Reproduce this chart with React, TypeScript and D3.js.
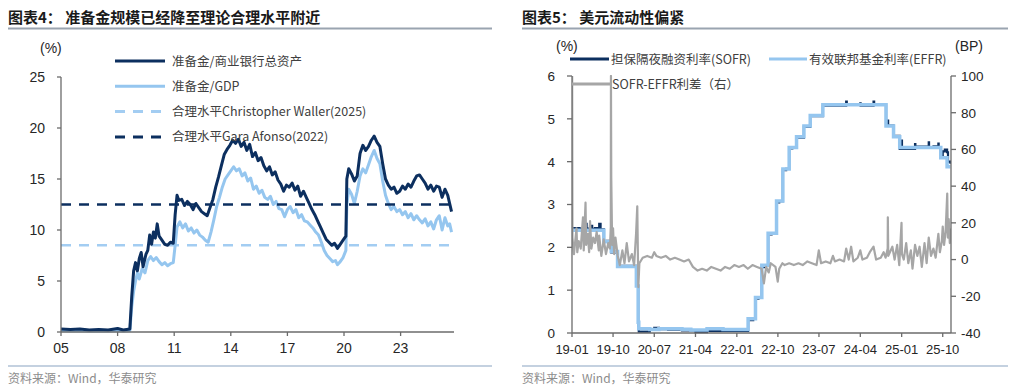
import * as d3 from 'd3';

// ---------- chart 4: reserves vs. reasonable level ----------
const leftTicks = [2005, 2008, 2011, 2014, 2017, 2020, 2023];
const leftYTicks = [0, 5, 10, 15, 20, 25];

// reserves / commercial bank total assets (%)
const reservesToAssets: [number, number][] = [
  [2005.0, 0.3], [2005.5, 0.25], [2006.0, 0.3], [2006.5, 0.2], [2007.0, 0.25], [2007.5, 0.2],
  [2008.0, 0.35], [2008.3, 0.2], [2008.65, 0.3], [2008.75, 3.5], [2008.85, 6.0], [2008.95, 6.8],
  [2009.05, 6.0], [2009.15, 7.2], [2009.25, 7.8], [2009.35, 6.4], [2009.5, 7.6], [2009.6, 8.0],
  [2009.7, 9.5], [2009.8, 8.6], [2009.9, 9.8], [2010.0, 9.2], [2010.1, 10.6], [2010.2, 9.4],
  [2010.35, 9.0], [2010.5, 8.6], [2010.65, 8.5], [2010.8, 8.8], [2010.95, 8.7], [2011.05, 11.5],
  [2011.15, 13.4], [2011.25, 12.9], [2011.4, 13.0], [2011.55, 12.4], [2011.7, 12.8], [2011.85, 12.5],
  [2012.0, 12.0], [2012.15, 12.6], [2012.3, 12.2], [2012.45, 11.8], [2012.6, 11.6], [2012.75, 11.4],
  [2012.9, 12.2], [2013.05, 13.0], [2013.2, 14.2], [2013.35, 15.2], [2013.5, 16.3], [2013.65, 17.4],
  [2013.8, 17.9], [2013.95, 18.3], [2014.1, 18.8], [2014.25, 18.5], [2014.4, 18.9], [2014.55, 18.2],
  [2014.7, 18.6], [2014.85, 17.8], [2015.0, 18.4], [2015.15, 17.2], [2015.3, 17.6], [2015.45, 16.8],
  [2015.6, 17.1], [2015.75, 16.3], [2015.9, 15.8], [2016.05, 16.2], [2016.2, 15.4], [2016.35, 15.7],
  [2016.5, 14.9], [2016.65, 14.5], [2016.8, 13.8], [2016.95, 14.4], [2017.1, 14.2], [2017.25, 14.6],
  [2017.4, 13.9], [2017.55, 14.3], [2017.7, 13.3], [2017.85, 13.8], [2018.0, 13.2], [2018.15, 12.6],
  [2018.3, 12.0], [2018.45, 11.5], [2018.6, 10.9], [2018.75, 10.3], [2018.9, 9.7], [2019.05, 9.1],
  [2019.2, 8.8], [2019.35, 8.5], [2019.5, 8.7], [2019.65, 8.2], [2019.8, 8.6], [2019.95, 9.0],
  [2020.1, 9.4], [2020.15, 15.0], [2020.25, 16.0], [2020.4, 15.5], [2020.55, 14.8], [2020.7, 15.3],
  [2020.85, 17.5], [2021.0, 18.3], [2021.15, 17.8], [2021.3, 18.2], [2021.45, 18.8], [2021.6, 19.2],
  [2021.75, 18.6], [2021.9, 18.2], [2022.05, 16.5], [2022.2, 15.0], [2022.35, 14.4], [2022.5, 14.0],
  [2022.65, 14.2], [2022.8, 13.6], [2022.95, 13.8], [2023.1, 14.3], [2023.25, 14.0], [2023.4, 14.5],
  [2023.55, 14.2], [2023.7, 14.8], [2023.85, 15.3], [2024.0, 15.4], [2024.15, 15.0], [2024.3, 14.6],
  [2024.45, 14.0], [2024.6, 14.4], [2024.75, 13.8], [2024.9, 14.3], [2025.05, 14.2], [2025.2, 13.2],
  [2025.35, 14.0], [2025.5, 13.4], [2025.6, 12.6], [2025.7, 11.8],
];

// reserves / GDP (%)
const reservesToGdp: [number, number][] = [
  [2005.0, 0.15], [2005.5, 0.12], [2006.0, 0.15], [2006.5, 0.1], [2007.0, 0.12], [2007.5, 0.1],
  [2008.0, 0.15], [2008.3, 0.1], [2008.65, 0.15], [2008.75, 2.5], [2008.85, 4.0], [2008.95, 5.0],
  [2009.05, 5.8], [2009.15, 5.2], [2009.3, 6.2], [2009.45, 5.8], [2009.6, 7.0], [2009.75, 7.4],
  [2009.9, 7.0], [2010.05, 7.3], [2010.2, 6.9], [2010.35, 6.6], [2010.5, 6.8], [2010.65, 6.5],
  [2010.8, 6.7], [2010.95, 6.8], [2011.05, 8.5], [2011.15, 10.3], [2011.3, 10.8], [2011.45, 10.2],
  [2011.6, 10.6], [2011.75, 9.9], [2011.9, 10.2], [2012.05, 9.7], [2012.2, 10.0], [2012.35, 9.5],
  [2012.5, 9.3], [2012.65, 9.0], [2012.8, 8.8], [2012.95, 9.8], [2013.1, 11.0], [2013.25, 12.3],
  [2013.4, 13.2], [2013.55, 14.2], [2013.7, 15.0], [2013.85, 15.4], [2014.0, 15.8], [2014.15, 16.2],
  [2014.3, 15.8], [2014.45, 16.0], [2014.6, 15.3], [2014.75, 15.6], [2014.9, 14.8], [2015.05, 15.1],
  [2015.2, 14.0], [2015.35, 14.3], [2015.5, 13.6], [2015.65, 13.9], [2015.8, 13.2], [2015.95, 13.0],
  [2016.1, 13.3], [2016.25, 12.5], [2016.4, 12.8], [2016.55, 12.1], [2016.7, 12.0], [2016.85, 11.3],
  [2017.0, 12.0], [2017.15, 12.3], [2017.3, 11.7], [2017.45, 12.0], [2017.6, 11.2], [2017.75, 11.5],
  [2017.9, 10.9], [2018.05, 10.8], [2018.2, 10.5], [2018.35, 10.2], [2018.5, 9.8], [2018.65, 9.5],
  [2018.8, 8.8], [2018.95, 8.0], [2019.1, 7.5], [2019.25, 7.2], [2019.4, 6.9], [2019.55, 7.0],
  [2019.65, 6.6], [2019.8, 6.9], [2019.95, 7.3], [2020.1, 8.0], [2020.15, 12.5], [2020.25, 14.0],
  [2020.4, 13.5], [2020.55, 12.6], [2020.7, 13.8], [2020.85, 15.3], [2021.0, 16.0], [2021.15, 15.6],
  [2021.3, 16.4], [2021.45, 17.2], [2021.6, 17.8], [2021.75, 17.0], [2021.9, 16.5], [2022.05, 14.8],
  [2022.2, 13.4], [2022.35, 12.6], [2022.5, 12.0], [2022.65, 12.3], [2022.8, 11.8], [2022.95, 12.0],
  [2023.1, 11.5], [2023.25, 11.8], [2023.4, 11.2], [2023.55, 11.6], [2023.7, 11.0], [2023.85, 11.4],
  [2024.0, 11.0], [2024.15, 10.7], [2024.3, 11.1], [2024.45, 10.4], [2024.6, 10.8], [2024.75, 10.1],
  [2024.9, 11.0], [2025.05, 11.4], [2025.2, 10.0], [2025.35, 11.2], [2025.5, 10.4], [2025.6, 10.6],
  [2025.7, 9.8],
];

const wallerLevel = 8.5;
const afonsoLevel = 12.5;

const leftLegend = [
  { label: '准备金/商业银行总资产', color: '#0c2f5f', dash: '' },
  { label: '准备金/GDP', color: '#95c6ef', dash: '' },
  { label: '合理水平Christopher Waller(2025)', color: '#a3cdf2', dash: '10 8' },
  { label: '合理水平Gara Afonso(2022)', color: '#0c2f5f', dash: '10 8' },
];

// ---------- chart 5: USD liquidity ----------
const rightTicks = ['2019-01', '2019-10', '2020-07', '2021-04', '2022-01', '2022-10', '2023-07', '2024-04', '2025-01', '2025-10'];
const rateTicks = [0, 1, 2, 3, 4, 5, 6];
const bpTicks = [-40, -20, 0, 20, 40, 60, 80, 100];

const effrRate: [string, number][] = [
  ['2019-01-01', 2.40], ['2019-08-01', 2.13], ['2019-09-19', 1.90], ['2019-10-31', 1.55],
  ['2020-03-04', 1.10], ['2020-03-16', 0.25], ['2020-03-20', 0.10], ['2020-06-01', 0.08],
  ['2020-08-01', 0.10], ['2021-01-01', 0.09], ['2021-03-01', 0.07], ['2021-06-17', 0.10],
  ['2021-10-01', 0.08], ['2022-03-17', 0.33], ['2022-05-05', 0.83], ['2022-06-16', 1.58],
  ['2022-07-28', 2.33], ['2022-09-22', 3.08], ['2022-11-03', 3.83], ['2022-12-15', 4.33],
  ['2023-02-02', 4.58], ['2023-03-23', 4.83], ['2023-05-04', 5.08], ['2023-07-27', 5.33],
  ['2024-09-19', 4.83], ['2024-11-08', 4.58], ['2024-12-19', 4.33], ['2025-09-18', 4.09],
  ['2025-10-30', 3.88], ['2025-11-21', 3.88],
];

const sofrRate: [string, number][] = [
  ['2019-01-01', 2.45], ['2019-01-18', 2.40], ['2019-02-01', 2.45], ['2019-02-20', 2.40],
  ['2019-03-01', 2.43], ['2019-03-15', 2.46], ['2019-04-01', 2.55], ['2019-04-08', 2.44],
  ['2019-05-01', 2.50], ['2019-05-15', 2.43], ['2019-06-03', 2.45], ['2019-06-17', 2.40],
  ['2019-07-01', 2.55], ['2019-07-10', 2.42], ['2019-08-01', 2.15], ['2019-09-19', 1.88],
  ['2019-10-31', 1.57], ['2020-03-04', 1.10], ['2020-03-16', 0.10], ['2020-03-20', 0.03],
  ['2020-06-01', 0.07], ['2020-07-01', 0.12], ['2020-08-01', 0.09], ['2020-10-01', 0.08],
  ['2021-01-01', 0.06], ['2021-04-01', 0.02], ['2021-06-17', 0.05], ['2022-03-17', 0.30],
  ['2022-04-20', 0.33], ['2022-05-05', 0.80], ['2022-05-25', 0.83], ['2022-06-16', 1.54],
  ['2022-07-05', 1.58], ['2022-07-28', 2.30], ['2022-08-20', 2.33], ['2022-09-22', 3.05],
  ['2022-10-10', 3.08], ['2022-11-03', 3.80], ['2022-11-25', 3.83], ['2022-12-15', 4.31],
  ['2023-01-05', 4.33], ['2023-02-02', 4.56], ['2023-03-23', 4.81], ['2023-05-04', 5.06],
  ['2023-07-27', 5.31], ['2023-12-29', 5.40], ['2024-01-02', 5.33], ['2024-04-01', 5.36],
  ['2024-04-03', 5.31], ['2024-06-28', 5.40], ['2024-07-02', 5.33], ['2024-09-19', 4.84],
  ['2024-10-01', 4.96], ['2024-10-03', 4.84], ['2024-11-08', 4.60], ['2024-12-19', 4.30],
  ['2024-12-31', 4.49], ['2025-01-03', 4.30], ['2025-03-31', 4.41], ['2025-04-02', 4.35],
  ['2025-06-30', 4.45], ['2025-07-02', 4.33], ['2025-08-01', 4.36], ['2025-09-02', 4.42],
  ['2025-09-04', 4.33], ['2025-09-18', 4.15], ['2025-10-01', 4.24], ['2025-10-15', 4.28],
  ['2025-10-30', 4.22], ['2025-11-05', 4.00], ['2025-11-21', 3.95],
];

// SOFR-EFFR spread (bp, right axis)
const spreadBp: [string, number][] = [
  ['2019-01-02', 100], ['2019-01-04', 12], ['2019-01-14', 3], ['2019-01-31', 17], ['2019-02-05', 4],
  ['2019-02-15', 10], ['2019-02-28', 6], ['2019-03-15', 23], ['2019-03-20', 5], ['2019-04-01', 31],
  ['2019-04-05', 8], ['2019-04-16', 14], ['2019-04-25', 4], ['2019-05-01', 21], ['2019-05-10', 6],
  ['2019-05-22', 12], ['2019-06-03', 9], ['2019-06-14', 15], ['2019-06-28', 5], ['2019-07-01', 13],
  ['2019-07-15', 2], ['2019-07-31', 11], ['2019-08-15', 3], ['2019-08-30', 9], ['2019-09-10', 6],
  ['2019-09-16', 18], ['2019-09-17', 100], ['2019-09-19', 45], ['2019-09-25', 8], ['2019-10-01', 17],
  ['2019-10-08', 3], ['2019-10-17', 12], ['2019-11-01', 2], ['2019-11-15', -3], ['2019-12-02', 5],
  ['2019-12-16', -2], ['2019-12-31', 9], ['2020-01-15', -1], ['2020-02-03', 3], ['2020-02-18', -3],
  ['2020-03-02', 14], ['2020-03-10', 29], ['2020-03-17', -15], ['2020-03-24', -2], ['2020-04-15', 1],
  ['2020-05-15', 2], ['2020-06-15', 1], ['2020-07-01', 4], ['2020-07-15', 2], ['2020-08-15', 1],
  ['2020-09-15', 2], ['2020-10-15', 0], ['2020-11-15', 1], ['2020-12-15', 0], ['2021-01-15', -1],
  ['2021-02-15', 0], ['2021-03-15', -4], ['2021-04-15', -6], ['2021-05-15', -5], ['2021-06-15', -6],
  ['2021-07-15', -4], ['2021-08-15', -5], ['2021-09-15', -6], ['2021-10-15', -4], ['2021-11-15', -5],
  ['2021-12-15', -3], ['2022-01-15', -4], ['2022-02-15', -3], ['2022-03-15', -5], ['2022-04-15', -3],
  ['2022-05-15', -4], ['2022-06-15', -5], ['2022-06-30', -13], ['2022-07-15', -4], ['2022-08-01', -7],
  ['2022-08-15', -2], ['2022-09-15', -4], ['2022-09-30', -12], ['2022-10-10', -5], ['2022-10-31', -2],
  ['2022-11-15', -3], ['2022-12-15', -2], ['2023-01-15', -3], ['2023-02-15', -2], ['2023-03-15', -3],
  ['2023-04-15', -1], ['2023-05-15', -2], ['2023-06-15', -3], ['2023-06-30', 5], ['2023-07-15', -2],
  ['2023-08-15', -1], ['2023-09-15', -2], ['2023-10-02', 2], ['2023-10-15', -1], ['2023-11-15', 0],
  ['2023-12-15', -1], ['2023-12-29', 6], ['2024-01-15', 0], ['2024-01-31', 7], ['2024-02-15', -1],
  ['2024-03-15', 1], ['2024-04-01', 5], ['2024-04-15', 0], ['2024-05-15', 1], ['2024-06-03', 4],
  ['2024-06-28', 7], ['2024-07-15', 0], ['2024-08-15', 1], ['2024-09-03', 4], ['2024-09-16', 1],
  ['2024-09-30', 6], ['2024-10-01', 23], ['2024-10-04', 2], ['2024-10-31', 7], ['2024-11-15', 0],
  ['2024-12-02', 8], ['2024-12-16', -3], ['2024-12-31', 20], ['2025-01-03', 3], ['2025-01-15', 0],
  ['2025-01-31', 9], ['2025-02-14', -2], ['2025-03-03', 5], ['2025-03-14', -5], ['2025-03-31', 8],
  ['2025-04-15', 2], ['2025-04-30', 7], ['2025-05-15', -4], ['2025-06-02', 9], ['2025-06-16', -2],
  ['2025-06-30', 12], ['2025-07-15', 2], ['2025-07-31', 6], ['2025-08-15', 1], ['2025-09-02', 14],
  ['2025-09-12', 4], ['2025-09-25', 10], ['2025-10-01', 18], ['2025-10-10', 8], ['2025-10-20', 15],
  ['2025-10-31', 36], ['2025-11-04', 12], ['2025-11-10', 22], ['2025-11-17', 9], ['2025-11-21', 17],
];

const DARK = '#0c2f5f';
const LIGHT = '#95c6ef';
const GRAY = '#a6a6a6';
const AXIS = '#6b6b6b';
const cjk = '"Noto Sans CJK SC", sans-serif';
const num = '"Liberation Sans", Arial, sans-serif';

const parse = d3.timeParse('%Y-%m-%d');
const parseMonth = d3.timeParse('%Y-%m');
const fmtMonth = d3.timeFormat('%y-%m');

function LeftChart() {
  const x = d3.scaleLinear().domain([2005, 2025.83]).range([61, 454]);
  const y = d3.scaleLinear().domain([0, 25]).range([332, 77]);
  const line = d3.line<[number, number]>().x((d) => x(d[0])).y((d) => y(d[1]));
  const [x0, x1] = x.range();
  return (
    <g>
      <text x={8} y={23} fontFamily={cjk} fontWeight={700} fontSize={15} fill="#1a1a1a">
        图表4：  准备金规模已经降至理论合理水平附近
      </text>
      <line x1={8} x2={492} y1={28.5} y2={28.5} stroke="#9aa4b0" strokeWidth={2} />
      <text x={40} y={53} fontFamily={num} fontSize={14} fill="#262626">(%)</text>

      <line x1={x0} x2={x1} y1={y(wallerLevel)} y2={y(wallerLevel)} stroke="#a3cdf2" strokeWidth={2.5} strokeDasharray="10 8" />
      <path d={line(reservesToGdp) ?? ''} fill="none" stroke={LIGHT} strokeWidth={3} strokeLinejoin="round" />
      <path d={line(reservesToAssets) ?? ''} fill="none" stroke={DARK} strokeWidth={3} strokeLinejoin="round" />
      <line x1={x0} x2={x1} y1={y(afonsoLevel)} y2={y(afonsoLevel)} stroke={DARK} strokeWidth={2.5} strokeDasharray="10 8" />

      {/* axes */}
      <line x1={x0} x2={x0} y1={y(25)} y2={y(0)} stroke={AXIS} strokeWidth={1.3} />
      <line x1={x0} x2={x1} y1={y(0)} y2={y(0)} stroke={AXIS} strokeWidth={1.3} />
      {leftYTicks.map((t) => (
        <g key={t}>
          <line x1={x0 - 4} x2={x0} y1={y(t)} y2={y(t)} stroke={AXIS} strokeWidth={1.3} />
          <text x={45} y={y(t)} dy="0.36em" textAnchor="end" fontFamily={num} fontSize={14} fill="#262626">{t}</text>
        </g>
      ))}
      {leftTicks.map((t) => (
        <g key={t}>
          <line x1={x(t)} x2={x(t)} y1={y(0)} y2={y(0) + 4} stroke={AXIS} strokeWidth={1.3} />
          <text x={x(t)} y={353} textAnchor="middle" fontFamily={num} fontSize={14} fill="#262626">
            {String(t % 100).padStart(2, '0')}
          </text>
        </g>
      ))}

      {leftLegend.map((d, i) => {
        const ly = 61 + i * 25.3;
        return (
          <g key={d.label}>
            <line x1={115} x2={165} y1={ly} y2={ly} stroke={d.color} strokeWidth={3} strokeDasharray={d.dash || undefined} />
            <text x={172} y={ly} dy="0.36em" fontFamily={cjk} fontSize={12.5} fill="#404040">{d.label}</text>
          </g>
        );
      })}

      <line x1={8} x2={492} y1={366} y2={366} stroke="#8aa3c2" strokeWidth={1.2} />
      <text x={8} y={383} fontFamily={cjk} fontSize={12} fill="#8c8c8c">资料来源：Wind，华泰研究</text>
    </g>
  );
}

function RightChart() {
  const x = d3.scaleTime().domain([parse('2019-01-01')!, parse('2025-11-25')!]).range([572, 951]);
  const yl = d3.scaleLinear().domain([0, 6]).range([333, 76]);
  const yr = d3.scaleLinear().domain([-40, 100]).range([333, 76]);
  const rateLine = d3
    .line<[string, number]>()
    .x((d) => x(parse(d[0])!))
    .y((d) => yl(d[1]))
    .curve(d3.curveStepAfter);
  const spreadLine = d3
    .line<[string, number]>()
    .x((d) => x(parse(d[0])!))
    .y((d) => yr(d[1]));
  const [x0, x1] = x.range();
  const [yb, yt] = yl.range();
  return (
    <g>
      <text x={522} y={23} fontFamily={cjk} fontWeight={700} fontSize={15} fill="#1a1a1a">
        图表5：  美元流动性偏紧
      </text>
      <line x1={522} x2={1008} y1={28.5} y2={28.5} stroke="#9aa4b0" strokeWidth={2} />
      <text x={556} y={51} fontFamily={num} fontSize={14} fill="#262626">(%)</text>
      <text x={955} y={51} fontFamily={num} fontSize={14} fill="#262626">(BP)</text>

      <defs>
        <clipPath id="rclip">
          <rect x={x0} y={yt - 1} width={x1 - x0} height={yb - yt + 2} />
        </clipPath>
      </defs>
      <g clipPath="url(#rclip)">
        <path d={rateLine(sofrRate) ?? ''} fill="none" stroke={DARK} strokeWidth={2.2} />
        <path d={rateLine(effrRate) ?? ''} fill="none" stroke={LIGHT} strokeWidth={3.5} />
        <path d={spreadLine(spreadBp) ?? ''} fill="none" stroke={GRAY} strokeWidth={2.2} strokeLinejoin="round" />
      </g>

      {/* axes */}
      <line x1={x0} x2={x0} y1={yt} y2={yb} stroke={AXIS} strokeWidth={1.3} />
      <line x1={x1} x2={x1} y1={yt} y2={yb} stroke={AXIS} strokeWidth={1.3} />
      <line x1={x0} x2={x1} y1={yb} y2={yb} stroke={AXIS} strokeWidth={1.3} />
      {rateTicks.map((t) => (
        <g key={t}>
          <line x1={x0 - 5} x2={x0} y1={yl(t)} y2={yl(t)} stroke={AXIS} strokeWidth={1.3} />
          <text x={555} y={yl(t)} dy="0.36em" textAnchor="end" fontFamily={num} fontSize={13.5} fill="#262626">{t}</text>
        </g>
      ))}
      {bpTicks.map((t) => (
        <g key={t}>
          <line x1={x1} x2={x1 + 5} y1={yr(t)} y2={yr(t)} stroke={AXIS} strokeWidth={1.3} />
          <text x={961} y={yr(t)} dy="0.36em" fontFamily={num} fontSize={13.5} fill="#262626">{t}</text>
        </g>
      ))}
      {rightTicks.map((t) => {
        const tx = x(parseMonth(t)!);
        return (
          <g key={t}>
            <line x1={tx} x2={tx} y1={yb} y2={yb + 4} stroke={AXIS} strokeWidth={1.3} />
            <text x={tx} y={354} textAnchor="middle" fontFamily={num} fontSize={13} fill="#262626">
              {fmtMonth(parseMonth(t)!)}
            </text>
          </g>
        );
      })}

      {/* legend */}
      <line x1={570} x2={609} y1={59} y2={59} stroke={DARK} strokeWidth={3} />
      <text x={611} y={59} dy="0.36em" fontFamily={cjk} fontSize={12.5} fill="#404040">担保隔夜融资利率(SOFR)</text>
      <line x1={769} x2={807} y1={59} y2={59} stroke={LIGHT} strokeWidth={3} />
      <text x={809} y={59} dy="0.36em" fontFamily={cjk} fontSize={12.5} fill="#404040">有效联邦基金利率(EFFR)</text>
      <line x1={572} x2={610} y1={84} y2={84} stroke={GRAY} strokeWidth={3} />
      <text x={612} y={84} dy="0.36em" fontFamily={cjk} fontSize={12.5} fill="#404040">SOFR-EFFR利差（右）</text>

      <line x1={522} x2={1008} y1={366} y2={366} stroke="#8aa3c2" strokeWidth={1.2} />
      <text x={522} y={383} fontFamily={cjk} fontSize={12} fill="#8c8c8c">资料来源：Wind，华泰研究</text>
    </g>
  );
}

export default function App() {
  return (
    <svg
      width={1024}
      height={391}
      viewBox="0 0 1024 391"
      style={{ position: 'absolute', left: 0, top: 0, background: '#fff' }}
    >
      <rect width={1024} height={391} fill="#fff" />
      <LeftChart />
      <RightChart />
    </svg>
  );
}
